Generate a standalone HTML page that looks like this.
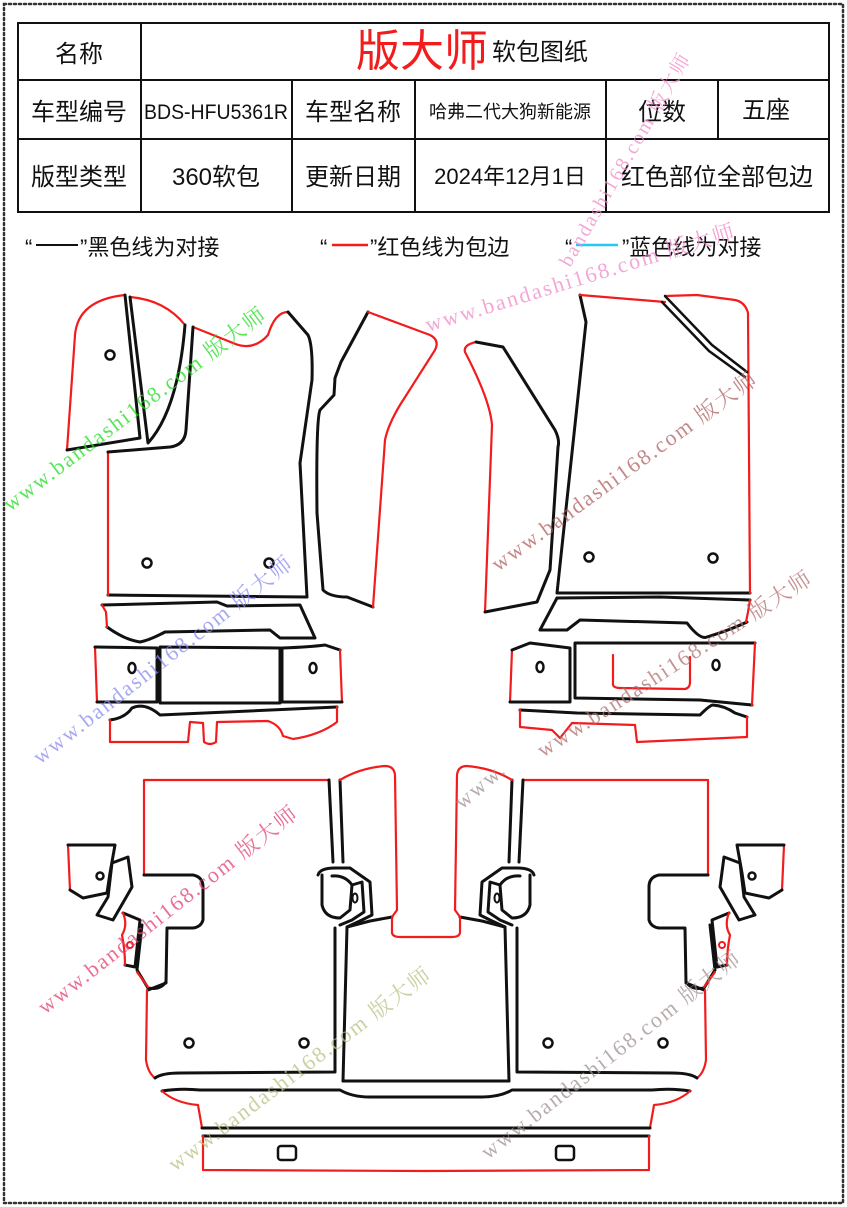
<!DOCTYPE html>
<html><head><meta charset="utf-8"><style>
html,body{margin:0;padding:0;background:#fff}
svg{display:block}
.t{font-family:"Liberation Sans","Noto Sans CJK SC",sans-serif;fill:#111}
.k{fill:none;stroke:#111;stroke-width:3;stroke-linejoin:round;stroke-linecap:round}
.r{fill:none;stroke:#f21c1c;stroke-width:2.2;stroke-linejoin:round;stroke-linecap:round}
.w{font-family:"Liberation Serif","Noto Serif CJK SC",serif;font-size:22px;letter-spacing:2px}
</style></head><body>
<svg width="847" height="1207" viewBox="0 0 847 1207" xmlns="http://www.w3.org/2000/svg">
<rect x="4" y="4" width="839" height="1199" fill="none" stroke="#333" stroke-width="2.5" stroke-dasharray="2 3" stroke-linecap="round"/>
<!-- table -->
<g fill="none" stroke="#111" stroke-width="2">
<rect x="18" y="23" width="811" height="189"/>
<line x1="18" y1="80" x2="829" y2="80"/><line x1="18" y1="139" x2="829" y2="139"/>
<line x1="141" y1="23" x2="141" y2="212"/>
<line x1="292" y1="80" x2="292" y2="212"/><line x1="415" y1="80" x2="415" y2="212"/>
<line x1="606" y1="80" x2="606" y2="212"/><line x1="718" y1="80" x2="718" y2="139"/>
</g>
<g class="t" font-size="24" text-anchor="middle">
<text x="79" y="62">名称</text>
<text x="79" y="120">车型编号</text>
<text x="216" y="119" font-size="21" textLength="144" lengthAdjust="spacingAndGlyphs">BDS-HFU5361R</text>
<text x="353" y="120">车型名称</text>
<text x="510" y="118" font-size="18">哈弗二代大狗新能源</text>
<text x="662" y="120">位数</text>
<text x="766" y="118">五座</text>
<text x="79" y="185">版型类型</text>
<text x="216" y="185">360软包</text>
<text x="353" y="185">更新日期</text>
<text x="510" y="184" font-size="22">2024年12月1日</text>
<text x="717" y="185">红色部位全部包边</text>
</g>
<text class="t" x="356" y="66" font-size="44" style="fill:#f21c1c">版大师</text>
<text class="t" x="492" y="60" font-size="24">软包图纸</text>
<!-- legend -->
<g class="t" font-size="22">
<text x="25" y="255">“</text><line x1="36" y1="245" x2="78" y2="245" stroke="#111" stroke-width="2"/><text x="80" y="255">”黑色线为对接</text>
<text x="320" y="255">“</text><line x1="332" y1="245" x2="368" y2="245" stroke="#f21c1c" stroke-width="2.5"/><text x="370" y="255">”红色线为包边</text>
<text x="565" y="255">“</text><line x1="576" y1="245" x2="618" y2="245" stroke="#25c8f0" stroke-width="2.5"/><text x="622" y="255">”蓝色线为对接</text>
</g>

<!-- TOP LEFT GROUP -->
<path class="r" d="M67,450 L75,335 Q78,300 125,295"/>
<path class="k" d="M125,295 L140,438 L67,450"/>
<circle class="k" cx="110" cy="355" r="4.5" style="stroke-width:2.5"/>
<path class="r" d="M130,297 Q165,300 185,325"/>
<path class="k" d="M130,297 L148,443 Q178,410 185,325"/>
<path class="r" d="M193,327 L233,343 Q253,352 268,335 Q275,312 288,312"/>
<path class="k" d="M288,312 L308,335 Q313,345 312,380 L300,463 L307,597 L108,595"/>
<path class="r" d="M108,595 L108,452"/>
<path class="k" d="M108,452 L170,447 Q185,445 186,430 L193,327"/>
<circle class="k" cx="147" cy="563" r="4.5" style="stroke-width:2.5"/>
<circle class="k" cx="269" cy="563" r="4.5" style="stroke-width:2.5"/>
<path class="k" d="M368,312 L341,362 L335,378 L334,395 L320,410 Q316,420 317,513 L323,590 Q330,597 347,597 L373,607"/>
<path class="r" d="M373,607 L385,440 Q388,425 400,405 L435,350 Q440,340 430,335 L368,312"/>
<path class="k" d="M102,605 L217,602 L227,606 L300,605 L315,638 L280,638 L270,630 L165,632 Q150,640 140,642 Q125,640 107,627"/>
<path class="r" d="M107,627 L106,612 L102,605"/>
<path class="r" d="M95,647 L97,702"/>
<path class="k" d="M95,647 L157,648 L157,702 L97,702"/>
<path class="k" d="M160,647 L280,648 L280,703 L160,703 Z"/>
<path class="k" d="M282,648 Q310,647 325,645 L340,650"/>
<path class="r" d="M340,650 L342,702"/>
<path class="k" d="M342,702 L282,702 L282,648"/>
<ellipse class="k" cx="132" cy="668" rx="3.5" ry="5" style="stroke-width:2.5"/>
<ellipse class="k" cx="313" cy="668" rx="3.5" ry="5" style="stroke-width:2.5"/>
<path class="k" d="M110,720 Q125,718 132,708 Q145,702 160,715 L337,707"/>
<path class="r" d="M110,720 L110,742 L188,742 L190,722 L203,723 L204,742 Q210,746 216,742 L217,722 L268,721 Q280,725 283,736 L293,739 Q320,735 337,722 L337,707"/>

<!-- TOP RIGHT GROUP -->
<path class="r" d="M476,342 Q463,345 465,352 Q490,400 492,425 L485,612"/>
<path class="k" d="M485,612 L537,602 L550,570 L558,447 Q560,440 555,430 L503,347 L476,342"/>
<path class="k" d="M580,295 L586,322 L557,593 L750,593"/>
<path class="r" d="M750,593 L748,313 Q745,302 735,300 L697,295 L665,296 M580,295 L665,302"/>
<path class="k" d="M665,296 L712,345 L747,372" style="stroke-width:2.5"/>
<path class="k" d="M662,302 L709,351 L745,377" style="stroke-width:2.5"/>
<circle class="k" cx="589" cy="557" r="4.5" style="stroke-width:2.5"/>
<circle class="k" cx="713" cy="558" r="4.5" style="stroke-width:2.5"/>
<path class="k" d="M557,598 L660,597 L750,600 M557,598 L540,630 L567,630 L580,620 L687,623 Q700,640 707,637 Q730,630 747,622"/>
<path class="r" d="M750,600 L748,612 L746,622"/>
<path class="r" d="M512,650 L510,702"/>
<path class="k" d="M512,650 L530,643 L570,648 L570,702 L510,702"/>
<path class="k" d="M575,643 L755,643 M575,643 L575,698 L700,700 L752,705"/>
<path class="r" d="M755,643 L752,705"/>
<path class="r" d="M613,655 L613,685 Q614,688 620,688 L685,689 Q690,688 690,682 L690,657"/>
<ellipse class="k" cx="540" cy="667" rx="3.5" ry="5" style="stroke-width:2.5"/>
<ellipse class="k" cx="716" cy="665" rx="3.5" ry="5" style="stroke-width:2.5"/>
<path class="k" d="M520,710 L577,713 L700,715 Q710,705 713,705 Q725,706 735,713 L747,717"/>
<path class="r" d="M747,717 L747,737 L637,742 L635,725 L572,723 L560,738 L552,730 L520,727 L520,710"/>

<!-- BOTTOM GROUP LEFT HALF -->
<g id="half">
<path class="r" d="M329,780 L144,780 L144,875"/>
<path class="k" d="M144,875 L193,875 Q203,877 203,887 L203,920 Q201,927 193,928 L167,928 L166,983 L148,990"/>
<path class="k" d="M142,925 L137,970 L148,988 Q160,990 165,983"/>
<path class="r" d="M137,972 L148,987"/>
<path class="r" d="M147,990 L146,1060 Q148,1073 155,1078"/>
<path class="k" d="M155,1078 Q162,1073 180,1073 L335,1072 L335,928"/>
<path class="k" d="M329,780 L333,862 M340,780 L343,862"/>
<path class="k" d="M318,875 Q320,868 335,868 L350,868 L370,882 L372,915 L362,920 L347,927 L343,1081 L392,1081 L509,1081"/>
<path class="k" d="M322,875 L322,905 Q325,918 340,918 L350,910 L352,885 Q345,875 332,876"/>
<path class="k" d="M352,885 L362,882 L364,912 L352,920 L340,925"/>
<ellipse class="k" cx="355" cy="898" rx="2.5" ry="4.5" style="stroke-width:2"/>
<path class="k" d="M347,927 L370,921 L392,917"/>
<path class="r" d="M340,780 Q360,768 385,766 Q394,766 395,775 L397,910 L392,917 L392,933 Q393,937 400,937 L426,937"/>
<circle class="k" cx="189" cy="1043" r="4.5" style="stroke-width:2.5"/>
<circle class="k" cx="304" cy="1043" r="4.5" style="stroke-width:2.5"/>
<path class="r" d="M68,845 L70,890"/>
<path class="k" d="M68,845 L115,845 L110,873 L107,893 L83,898 L70,890"/>
<circle class="k" cx="100" cy="876" r="3.5" style="stroke-width:2.5"/>
<path class="k" d="M112,863 L128,857 L132,887 L113,920 L97,915 L108,897 Z"/>
<path class="k" d="M123,913 L140,920 L135,967 L125,965"/>
<path class="r" d="M123,913 Q128,925 122,935 Q125,950 125,965"/>
<circle cx="130" cy="945" r="3" fill="none" stroke="#f21c1c" stroke-width="2"/>
<path class="k" d="M162,1091 Q180,1088 200,1090 L340,1090 Q352,1097 370,1097 L426,1097"/>
<path class="r" d="M162,1091 Q175,1103 198,1105 L202,1128"/>
<path class="k" d="M202,1128 L426,1128 M203,1136 L426,1136"/>
<path class="r" d="M203,1136 L203,1170 L426,1171"/>
<rect class="k" x="278" y="1146" width="18" height="14" rx="3" style="stroke-width:2.5"/>
</g>
<use href="#half" transform="translate(852,0) scale(-1,1)"/>

<!-- watermarks -->
<g class="w" opacity="0.75">
<text transform="translate(10,512) rotate(-37)" fill="#22dd22">www.bandashi168.com 版大师</text>
<text transform="translate(428,332) rotate(-17)" fill="#f08ac8">www.bandashi168.com 版大师</text>
<text transform="translate(570,268) rotate(-60)" fill="#f08ac8" font-size="20">bandashi168.com 版大师</text>
<text transform="translate(40,765) rotate(-38)" fill="#8a8af0">www.bandashi168.com 版大师</text>
<text transform="translate(498,572) rotate(-36)" fill="#b06060">www.bandashi168.com 版大师</text>
<text transform="translate(543,758) rotate(-33)" fill="#b07070">www.bandashi168.com 版大师</text>
<text transform="translate(45,1015) rotate(-38)" fill="#e04070">www.bandashi168.com 版大师</text>
<text transform="translate(175,1172) rotate(-37)" fill="#b8c080">www.bandashi168.com 版大师</text>
<text transform="translate(488,1160) rotate(-38)" fill="#a09090">www.bandashi168.com 版大师</text>
<text transform="translate(462,810) rotate(-40)" fill="#a09090">www.</text>
</g>
</svg>
</body></html>
